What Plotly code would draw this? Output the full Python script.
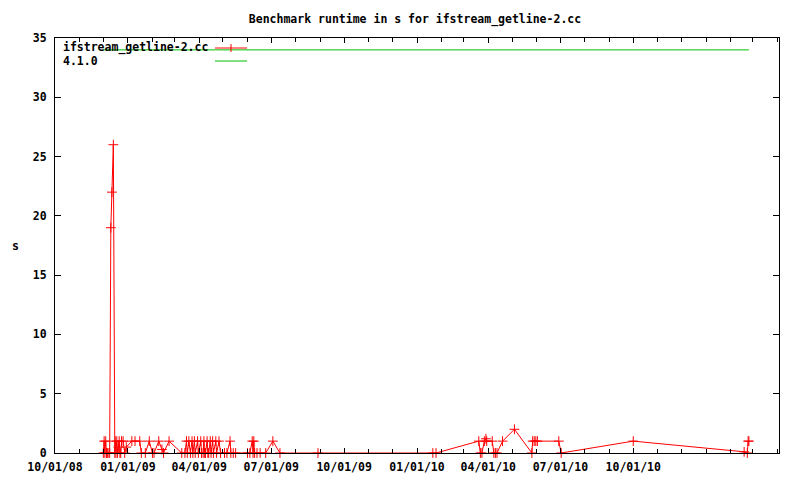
import plotly.graph_objects as go

title_text = "Benchmark runtime in s for ifstream_getline-2.cc"
series_name = "ifstream_getline-2.cc"
baseline_name = "4.1.0"

run_dates = [
    # Dec 2008
    "2008-12-01", "2008-12-02", "2008-12-03", "2008-12-04", "2008-12-05", "2008-12-06",
    "2008-12-07", "2008-12-09", "2008-12-10 12:00", "2008-12-11 20:00", "2008-12-13 16:00",
    "2008-12-15 12:00", "2008-12-16", "2008-12-17", "2008-12-18", "2008-12-19", "2008-12-20",
    "2008-12-21", "2008-12-22", "2008-12-23", "2008-12-24", "2008-12-26", "2008-12-28",
    "2008-12-30",
    # Jan-Feb 2009
    "2009-01-06", "2009-01-10", "2009-01-16", "2009-01-18", "2009-01-23", "2009-01-28",
    "2009-02-01", "2009-02-03", "2009-02-09", "2009-02-13", "2009-02-15", "2009-02-22",
    "2009-03-10",
    # Mar-May 2009
    "2009-03-14", "2009-03-16", "2009-03-17", "2009-03-19", "2009-03-21", "2009-03-23",
    "2009-03-24", "2009-03-26", "2009-03-27", "2009-03-30", "2009-03-31", "2009-04-03",
    "2009-04-04", "2009-04-06", "2009-04-07", "2009-04-08", "2009-04-09", "2009-04-11",
    "2009-04-12", "2009-04-13", "2009-04-15", "2009-04-16", "2009-04-18", "2009-04-19",
    "2009-04-22", "2009-04-23", "2009-04-26", "2009-04-28", "2009-05-03", "2009-05-06",
    "2009-05-10", "2009-05-11", "2009-05-14", "2009-05-17",
    # Jun-Aug 2009
    "2009-06-01", "2009-06-04", "2009-06-07", "2009-06-08", "2009-06-09", "2009-06-10",
    "2009-06-13", "2009-06-17", "2009-06-24", "2009-07-03", "2009-07-12", "2009-08-29",
    # 2010-2011
    "2010-01-21", "2010-01-25", "2010-03-20", "2010-03-22", "2010-03-24", "2010-03-27",
    "2010-03-29", "2010-03-30", "2010-04-06", "2010-04-08", "2010-04-10", "2010-04-12",
    "2010-04-19", "2010-05-04", "2010-05-26", "2010-05-27", "2010-05-29", "2010-05-31",
    "2010-06-02", "2010-06-29", "2010-07-02", "2010-10-01", "2011-02-18", "2011-02-22",
    "2011-02-23", "2011-02-24",
]
run_values = [
    # Dec 2008
    0, 1, 0, 1, 0, 0,
    0, 0, 19, 22, 26,
    0, 1, 0, 1, 0, 0.5,
    1, 0, 0, 1, 1, 0,
    0.5,
    # Jan-Feb 2009
    1, 1, 1, 0, 0, 1,
    0, 0, 1, 0.3, 0, 1,
    0,
    # Mar-May 2009
    0, 1, 0, 1, 0, 1,
    0, 1, 0, 1, 0, 1,
    0, 0, 1, 0, 0, 1,
    0, 0, 1, 0, 1, 0,
    1, 0, 1, 0, 0, 0,
    1, 0, 0, 0,
    # Jun-Aug 2009
    0, 0, 1, 0, 1, 0,
    0, 0, 0, 1, 0, 0,
    # 2010-2011
    0, 0, 1, 0, 0, 1,
    1.2, 1, 1, 0, 0, 0,
    1, 2, 0, 1, 1, 1,
    1, 1, 0, 1, 0.1, 0,
    1, 1,
]

baseline_dates = ["2008-12-01", "2011-02-24"]
baseline_values = [34, 34]

x_tick_dates = ["2008-10-01", "2009-01-01", "2009-04-01", "2009-07-01", "2009-10-01",
                "2010-01-01", "2010-04-01", "2010-07-01", "2010-10-01"]
y_ticks = [0, 5, 10, 15, 20, 25, 30, 35]

FONT = "DejaVu Sans Mono"
RED = "#ff0000"
GREEN = "#00c000"

# the page body has an 8px margin, so the figure is 792x472 to fill the 800x480 window
W, H = 792, 472
ML, MR, MT, MB = 47, 21, 30, 27
PW, PH = W - ML - MR, H - MT - MB

fig = go.Figure()
fig.add_trace(go.Scatter(
    x=run_dates, y=run_values, mode="lines+markers", name=series_name,
    line=dict(color=RED, width=1),
    marker=dict(symbol="cross-thin", size=7, color=RED, line=dict(color=RED, width=1)),
    cliponaxis=False, showlegend=False,
))
fig.add_trace(go.Scatter(
    x=baseline_dates, y=baseline_values, mode="lines", name=baseline_name,
    line=dict(color=GREEN, width=1), showlegend=False,
))

tick_font = dict(family=FONT, size=11.5, color="black", weight="bold")

fig.update_layout(
    width=W, height=H,
    margin=dict(l=ML, r=MR, t=MT, b=MB),
    paper_bgcolor="white", plot_bgcolor="white",
    title=dict(text=title_text, x=407 / W, xanchor="center", y=1 - 11 / H, yanchor="middle",
               font=dict(family=FONT, size=11.5, color="black", weight="bold"), automargin=False),
    xaxis=dict(
        type="date", range=["2008-10-01", "2011-04-03"],
        tickvals=x_tick_dates, tickformat="%m/%d/%y",
        ticks="inside", ticklen=5, tickcolor="black", mirror="ticks",
        showline=True, linecolor="black", linewidth=1, automargin=False,
        showgrid=False, zeroline=False, tickfont=tick_font, ticklabelstandoff=3,
        minor=dict(dtick="M1", tick0="2008-10-01", ticks="inside", ticklen=4,
                   tickcolor="black", showgrid=False),
    ),
    yaxis=dict(
        range=[0, 35], tickvals=y_ticks,
        ticks="inside", ticklen=6, tickcolor="black", mirror="ticks",
        showline=True, linecolor="black", linewidth=1, automargin=False,
        showgrid=False, zeroline=False, tickfont=tick_font, ticklabelstandoff=5,
    ),
    showlegend=False,
)

# y-axis label
fig.add_annotation(text="s", xref="paper", yref="paper", x=-40 / PW, y=0.5,
                   showarrow=False, font=tick_font, xanchor="center", yanchor="middle")

# gnuplot-style legend (text left, sample right)
legend_rows = [(series_name, RED, True, 405 / PH), (baseline_name, GREEN, False, 392 / PH)]
x_s0, x_s1, x_sm = 160 / PW, 192 / PW, 176 / PW
for label, color, mark, yy in legend_rows:
    fig.add_annotation(text=label, xref="paper", yref="paper", x=6 / PW, y=yy,
                       xanchor="left", yanchor="middle", showarrow=False, font=tick_font)
    fig.add_shape(type="line", xref="paper", yref="paper", x0=x_s0, x1=x_s1, y0=yy, y1=yy,
                  line=dict(color=color, width=1))
    if mark:
        fig.add_shape(type="line", xref="paper", yref="paper", x0=x_sm, x1=x_sm,
                      y0=yy - 4 / PH, y1=yy + 4 / PH, line=dict(color=color, width=1))

fig.write_html("out.html")
